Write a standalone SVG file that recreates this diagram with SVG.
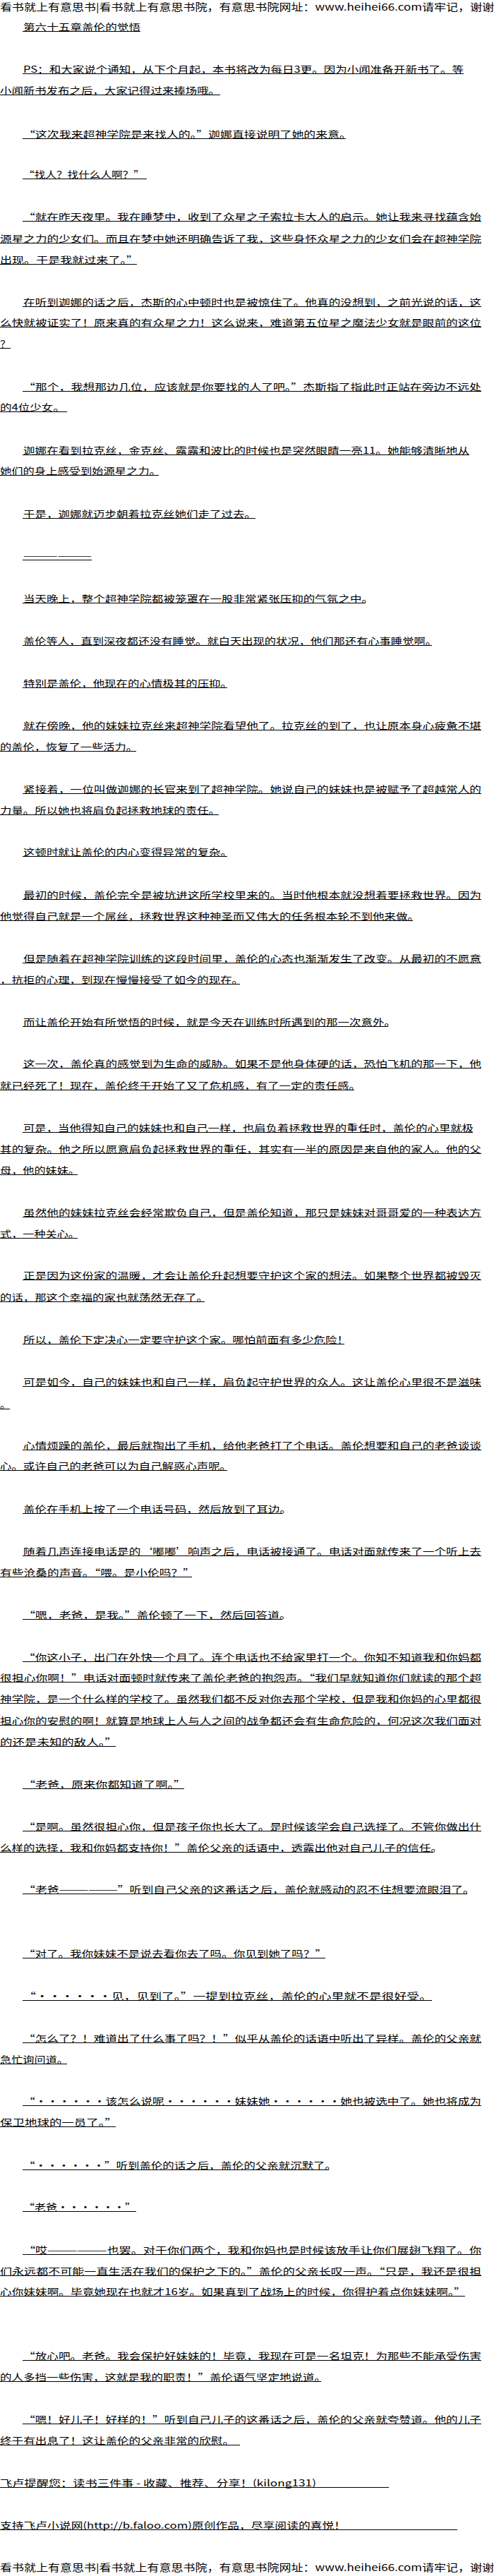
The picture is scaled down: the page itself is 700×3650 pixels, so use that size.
<svg xmlns="http://www.w3.org/2000/svg" width="700" height="3650" viewBox="0 0 700 3650">
<style>
.t{font-family:"Noto Sans CJK SC","Noto Sans CJK JP",sans-serif;font-size:13px;fill:#000}
.h{font-family:"Noto Sans CJK SC","Noto Sans CJK JP",sans-serif;font-size:13.5px;fill:#000}
.ul{fill:none;stroke:#000;stroke-width:1}
</style>
<rect x="0" y="0" width="700" height="3650" fill="#fff"/>
<g id="header"><text class="h" x="0" y="15" textLength="700" lengthAdjust="spacingAndGlyphs">看书就上有意思书|看书就上有意思书院，有意思书院网址：www.heihei66.com请牢记，谢谢</text></g>
<g id="body">
<text class="t" x="33" y="43" textLength="166" lengthAdjust="spacingAndGlyphs">第六十五章盖伦的觉悟</text>
<text class="t" x="33" y="103" textLength="624" lengthAdjust="spacingAndGlyphs">PS：和大家说个通知，从下个月起，本书将改为每日3更。因为小闻准备开新书了。等</text>
<text class="t" x="0" y="133" textLength="312" lengthAdjust="spacingAndGlyphs">小闻新书发布之后，大家记得过来捧场哦。</text>
<text class="t" x="33" y="195" textLength="465" lengthAdjust="spacingAndGlyphs">“这次我来超神学院是来找人的。”迦娜直接说明了她的来意。</text>
<text class="t" x="33" y="252" textLength="172" lengthAdjust="spacingAndGlyphs">“找人？找什么人啊？”</text>
<text class="t" x="33" y="312" textLength="649" lengthAdjust="spacingAndGlyphs">“就在昨天夜里。我在睡梦中，收到了众星之子索拉卡大人的启示。她让我来寻找蕴含始</text>
<text class="t" x="0" y="343" textLength="682" lengthAdjust="spacingAndGlyphs">源星之力的少女们。而且在梦中她还明确告诉了我，这些身怀众星之力的少女们会在超神学院</text>
<text class="t" x="0" y="373" textLength="196" lengthAdjust="spacingAndGlyphs">出现。于是我就过来了。”</text>
<text class="t" x="33" y="433" textLength="649" lengthAdjust="spacingAndGlyphs">在听到迦娜的话之后，杰斯的心中顿时也是被惊住了。他真的没想到，之前光说的话，这</text>
<text class="t" x="0" y="462" textLength="682" lengthAdjust="spacingAndGlyphs">么快就被证实了！原来真的有众星之力！这么说来，难道第五位星之魔法少女就是眼前的这位</text>
<text class="t" x="0" y="492" textLength="15" lengthAdjust="spacingAndGlyphs">？</text>
<text class="t" x="33" y="553" textLength="649" lengthAdjust="spacingAndGlyphs">“那个，我想那边几位，应该就是你要找的人了吧。”杰斯指了指此时正站在旁边不远处</text>
<text class="t" x="0" y="582" textLength="92" lengthAdjust="spacingAndGlyphs">的4位少女。</text>
<text class="t" x="33" y="643" textLength="632" lengthAdjust="spacingAndGlyphs">迦娜在看到拉克丝，金克丝、露露和波比的时候也是突然眼睛一亮11。她能够清晰地从</text>
<text class="t" x="0" y="672" textLength="228" lengthAdjust="spacingAndGlyphs">她们的身上感受到始源星之力。</text>
<text class="t" x="33" y="733" textLength="330" lengthAdjust="spacingAndGlyphs">于是，迦娜就迈步朝着拉克丝她们走了过去。</text>
<text class="t" x="33" y="792" textLength="97" lengthAdjust="spacingAndGlyphs">——————</text>
<text class="t" x="33" y="853" textLength="496" lengthAdjust="spacingAndGlyphs">当天晚上，整个超神学院都被笼罩在一股非常紧张压抑的气氛之中。</text>
<text class="t" x="33" y="913" textLength="586" lengthAdjust="spacingAndGlyphs">盖伦等人，直到深夜都还没有睡觉。就白天出现的状况，他们那还有心事睡觉啊。</text>
<text class="t" x="33" y="973" textLength="296" lengthAdjust="spacingAndGlyphs">特别是盖伦，他现在的心情极其的压抑。</text>
<text class="t" x="33" y="1033" textLength="649" lengthAdjust="spacingAndGlyphs">就在傍晚，他的妹妹拉克丝来超神学院看望他了。拉克丝的到了，也让原本身心疲惫不堪</text>
<text class="t" x="0" y="1063" textLength="195" lengthAdjust="spacingAndGlyphs">的盖伦，恢复了一些活力。</text>
<text class="t" x="33" y="1123" textLength="649" lengthAdjust="spacingAndGlyphs">紧接着，一位叫做迦娜的长官来到了超神学院。她说自己的妹妹也是被赋予了超越常人的</text>
<text class="t" x="0" y="1153" textLength="312" lengthAdjust="spacingAndGlyphs">力量。所以她也将肩负起拯救地球的责任。</text>
<text class="t" x="33" y="1212" textLength="296" lengthAdjust="spacingAndGlyphs">这顿时就让盖伦的内心变得异常的复杂。</text>
<text class="t" x="33" y="1273" textLength="649" lengthAdjust="spacingAndGlyphs">最初的时候，盖伦完全是被坑进这所学校里来的。当时他根本就没想着要拯救世界。因为</text>
<text class="t" x="0" y="1303" textLength="594" lengthAdjust="spacingAndGlyphs">他觉得自己就是一个屌丝，拯救世界这种神圣而又伟大的任务根本轮不到他来做。</text>
<text class="t" x="33" y="1363" textLength="649" lengthAdjust="spacingAndGlyphs">但是随着在超神学院训练的这段时间里，盖伦的心态也渐渐发生了改变。从最初的不愿意</text>
<text class="t" x="0" y="1393" textLength="345" lengthAdjust="spacingAndGlyphs">，抗拒的心理，到现在慢慢接受了如今的现在。</text>
<text class="t" x="33" y="1453" textLength="528" lengthAdjust="spacingAndGlyphs">而让盖伦开始有所觉悟的时候，就是今天在训练时所遇到的那一次意外。</text>
<text class="t" x="33" y="1512" textLength="649" lengthAdjust="spacingAndGlyphs">这一次，盖伦真的感觉到为生命的威胁。如果不是他身体硬的话，恐怕飞机的那一下，他</text>
<text class="t" x="0" y="1543" textLength="511" lengthAdjust="spacingAndGlyphs">就已经死了！现在，盖伦终于开始了又了危机感，有了一定的责任感。</text>
<text class="t" x="33" y="1603" textLength="638" lengthAdjust="spacingAndGlyphs">可是，当他得知自己的妹妹也和自己一样，也肩负着拯救世界的重任时，盖伦的心里就极</text>
<text class="t" x="0" y="1633" textLength="682" lengthAdjust="spacingAndGlyphs">其的复杂。他之所以愿意肩负起拯救世界的重任，其实有一半的原因是来自他的家人。他的父</text>
<text class="t" x="0" y="1663" textLength="113" lengthAdjust="spacingAndGlyphs">母，他的妹妹。</text>
<text class="t" x="33" y="1723" textLength="649" lengthAdjust="spacingAndGlyphs">虽然他的妹妹拉克丝会经常欺负自己，但是盖伦知道，那只是妹妹对哥哥爱的一种表达方</text>
<text class="t" x="0" y="1753" textLength="113" lengthAdjust="spacingAndGlyphs">式，一种关心。</text>
<text class="t" x="33" y="1812" textLength="649" lengthAdjust="spacingAndGlyphs">正是因为这份家的温暖，才会让盖伦升起想要守护这个家的想法。如果整个世界都被毁灭</text>
<text class="t" x="0" y="1843" textLength="295" lengthAdjust="spacingAndGlyphs">的话，那这个幸福的家也就荡然无存了。</text>
<text class="t" x="33" y="1903" textLength="461" lengthAdjust="spacingAndGlyphs">所以，盖伦下定决心一定要守护这个家。哪怕前面有多少危险！</text>
<text class="t" x="33" y="1963" textLength="649" lengthAdjust="spacingAndGlyphs">可是如今，自己的妹妹也和自己一样，肩负起守护世界的众人。这让盖伦心里很不是滋味</text>
<text class="t" x="0" y="1995" textLength="15" lengthAdjust="spacingAndGlyphs">。</text>
<text class="t" x="33" y="2053" textLength="649" lengthAdjust="spacingAndGlyphs">心情烦躁的盖伦，最后就掏出了手机，给他老爸打了个电话。盖伦想要和自己的老爸谈谈</text>
<text class="t" x="0" y="2082" textLength="328" lengthAdjust="spacingAndGlyphs">心。或许自己的老爸可以为自己解惑心声呢。</text>
<text class="t" x="33" y="2143" textLength="380" lengthAdjust="spacingAndGlyphs">盖伦在手机上按了一个电话号码，然后放到了耳边。</text>
<text class="t" x="33" y="2203" textLength="649" lengthAdjust="spacingAndGlyphs">随着几声连接电话是的‘嘟嘟’响声之后，电话被接通了。电话对面就传来了一个听上去</text>
<text class="t" x="0" y="2233" textLength="276" lengthAdjust="spacingAndGlyphs">有些沧桑的声音。“喂。是小伦吗？”</text>
<text class="t" x="33" y="2293" textLength="380" lengthAdjust="spacingAndGlyphs">“嗯，老爸，是我。”盖伦顿了一下，然后回答道。</text>
<text class="t" x="33" y="2353" textLength="649" lengthAdjust="spacingAndGlyphs">“你这小子，出门在外快一个月了。连个电话也不给家里打一个。你知不知道我和你妈都</text>
<text class="t" x="0" y="2382" textLength="682" lengthAdjust="spacingAndGlyphs">很担心你啊！”电话对面顿时就传来了盖伦老爸的抱怨声。“我们早就知道你们就读的那个超</text>
<text class="t" x="0" y="2412" textLength="682" lengthAdjust="spacingAndGlyphs">神学院，是一个什么样的学校了。虽然我们都不反对你去那个学校，但是我和你妈的心里都很</text>
<text class="t" x="0" y="2443" textLength="682" lengthAdjust="spacingAndGlyphs">担心你的安慰的啊！就算是地球上人与人之间的战争都还会有生命危险的，何况这次我们面对</text>
<text class="t" x="0" y="2473" textLength="166" lengthAdjust="spacingAndGlyphs">的还是未知的敌人。”</text>
<text class="t" x="33" y="2533" textLength="230" lengthAdjust="spacingAndGlyphs">“老爸，原来你都知道了啊。”</text>
<text class="t" x="33" y="2593" textLength="649" lengthAdjust="spacingAndGlyphs">“是啊。虽然很担心你，但是孩子你也长大了。是时候该学会自己选择了。不管你做出什</text>
<text class="t" x="0" y="2623" textLength="627" lengthAdjust="spacingAndGlyphs">么样的选择，我和你妈都支持你！”盖伦父亲的话语中，透露出他对自己儿子的信任。</text>
<text class="t" x="33" y="2682" textLength="640" lengthAdjust="spacingAndGlyphs">“老爸——————”听到自己父亲的这番话之后，盖伦就感动的忍不住想要流眼泪了。</text>
<text class="t" x="33" y="2773" textLength="430" lengthAdjust="spacingAndGlyphs">“对了。我你妹妹不是说去看你去了吗。你见到她了吗？”</text>
<text class="t" x="33" y="2833" textLength="579" lengthAdjust="spacingAndGlyphs">“・・・・・・见，见到了。”一提到拉克丝，盖伦的心里就不是很好受。</text>
<text class="t" x="33" y="2893" textLength="649" lengthAdjust="spacingAndGlyphs">“怎么了？！难道出了什么事了吗？！”似乎从盖伦的话语中听出了异样。盖伦的父亲就</text>
<text class="t" x="0" y="2923" textLength="97" lengthAdjust="spacingAndGlyphs">急忙询问道。</text>
<text class="t" x="33" y="2982" textLength="649" lengthAdjust="spacingAndGlyphs">“・・・・・・该怎么说呢・・・・・・妹妹她・・・・・・她也被选中了。她也将成为</text>
<text class="t" x="0" y="3012" textLength="166" lengthAdjust="spacingAndGlyphs">保卫地球的一员了。”</text>
<text class="t" x="33" y="3073" textLength="444" lengthAdjust="spacingAndGlyphs">“・・・・・・”听到盖伦的话之后，盖伦的父亲就沉默了。</text>
<text class="t" x="33" y="3132" textLength="160" lengthAdjust="spacingAndGlyphs">“老爸・・・・・・”</text>
<text class="t" x="33" y="3193" textLength="649" lengthAdjust="spacingAndGlyphs">“哎——————也罢。对于你们两个，我和你妈也是时候该放手让你们展翅飞翔了。你</text>
<text class="t" x="0" y="3223" textLength="682" lengthAdjust="spacingAndGlyphs">们永远都不可能一直生活在我们的保护之下的。”盖伦的父亲长叹一声。“只是，我还是很担</text>
<text class="t" x="0" y="3252" textLength="660" lengthAdjust="spacingAndGlyphs">心你妹妹啊。毕竟她现在也就才16岁。如果真到了战场上的时候，你得护着点你妹妹啊。”</text>
<text class="t" x="33" y="3343" textLength="649" lengthAdjust="spacingAndGlyphs">“放心吧。老爸。我会保护好妹妹的！毕竟，我现在可是一名坦克！为那些不能承受伤害</text>
<text class="t" x="0" y="3373" textLength="462" lengthAdjust="spacingAndGlyphs">的人多挡一些伤害，这就是我的职责！”盖伦语气坚定地说道。</text>
<text class="t" x="33" y="3433" textLength="649" lengthAdjust="spacingAndGlyphs">“嗯！好儿子！好样的！”听到自己儿子的这番话之后，盖伦的父亲就夸赞道。他的儿子</text>
<text class="t" x="0" y="3463" textLength="332" lengthAdjust="spacingAndGlyphs">终于有出息了！这让盖伦的父亲非常的欣慰。</text>
<text class="t" x="0" y="3523" textLength="448" lengthAdjust="spacingAndGlyphs">飞卢提醒您：读书三件事 - 收藏、推荐、分享！(kilong131)</text>
<text class="t" x="0" y="3583" textLength="490" lengthAdjust="spacingAndGlyphs">支持飞卢小说网(http://b.faloo.com)原创作品，尽享阅读的喜悦！</text>
</g>
<path class="ul" d="M32 44.5H199M32 104.5H657M0 134.5H312M32 196.5H490M32 253.5H208M32 313.5H682M0 344.5H682M0 374.5H194M32 434.5H682M0 463.5H682M0 493.5H15M32 554.5H682M0 583.5H95M32 644.5H665M0 673.5H225M32 734.5H362M32 793.5H130M32 854.5H518M32 914.5H612M32 974.5H322M32 1034.5H682M0 1064.5H193M32 1124.5H682M0 1154.5H310M32 1213.5H322M32 1274.5H682M0 1304.5H585M32 1364.5H682M0 1394.5H340M32 1454.5H550M32 1513.5H682M0 1544.5H502M32 1604.5H670M0 1634.5H682M0 1664.5H110M32 1724.5H682M0 1754.5H110M32 1813.5H682M0 1844.5H290M32 1904.5H488M32 1964.5H682M0 1996.5H14M32 2054.5H682M0 2083.5H322M32 2144.5H400M32 2204.5H682M0 2234.5H272M32 2294.5H400M32 2354.5H682M0 2383.5H682M0 2413.5H682M0 2444.5H682M0 2474.5H164M32 2534.5H261M32 2594.5H682M0 2624.5H614M32 2683.5H662M32 2774.5H461M32 2834.5H612M32 2894.5H682M0 2924.5H95M32 2983.5H682M0 3013.5H164M32 3074.5H466M32 3133.5H193M32 3194.5H682M0 3224.5H682M0 3253.5H659M32 3344.5H682M0 3374.5H455M32 3434.5H682M0 3464.5H340M0 3524.5H551M0 3584.5H648"/>
<g id="footer"><text class="h" x="0" y="3643" textLength="700" lengthAdjust="spacingAndGlyphs">看书就上有意思书|看书就上有意思书院，有意思书院网址：www.heihei66.com请牢记，谢谢</text></g>
</svg>
